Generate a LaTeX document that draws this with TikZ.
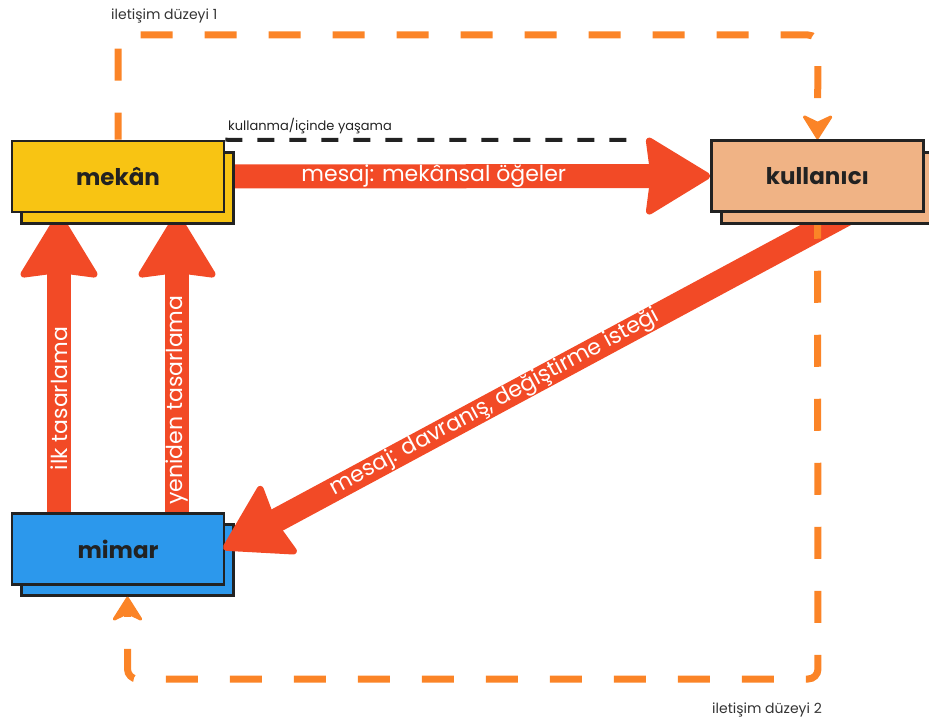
\documentclass[tikz,border=0pt]{standalone}
\usepackage{fontspec}
\setmainfont{Poppins}
\usetikzlibrary{arrows.meta}

\definecolor{msgred}{HTML}{F24A26}
\definecolor{lvlorange}{HTML}{FB8427}
\definecolor{spaceyellow}{HTML}{F8C413}
\definecolor{userpeach}{HTML}{F0B385}
\definecolor{archblue}{HTML}{2C98EC}
\definecolor{ink}{HTML}{222222}
\definecolor{caption}{HTML}{333333}

\pgfdeclarelayer{base}
\pgfdeclarelayer{flows}
\pgfdeclarelayer{levels}
\pgfsetlayers{base,flows,levels,main}

\tikzset{
  box/.style={draw=ink, line width=2.5pt, minimum width=212pt, minimum height=71pt,
              inner sep=0pt, font=\fontsize{23}{26}\selectfont\bfseries, text=ink},
  msg/.style={draw=msgred, line width=24pt,
              -{Stealth[length=68pt, width=82pt, inset=5pt, line width=7pt, round]}},
  msglabel/.style={text=white, font=\fontsize{22}{25}\selectfont, sloped, inner sep=0pt},
  level/.style={draw=lvlorange, line width=7pt, dash pattern=on 32pt off 32pt,
              rounded corners=10pt,
              -{Stealth[length=27pt, width=34pt, inset=8pt, line width=3pt, round]}},
  usage/.style={draw=ink, line width=4pt, dash pattern=on 17pt off 15pt},
  levellabel/.style={text=caption, font=\fontsize{14}{17}\selectfont, inner sep=0pt},
}

\begin{document}
\begin{tikzpicture}[x=1pt, y=-1pt]
\useasboundingbox (0,0) rectangle (929,722);

% architect: stacked boxes at the bottom left
\begin{pgfonlayer}{base}
  \node[box, fill=archblue] (mimarb) at (127.5,560) {};
  \node[box, fill=archblue] (mimar) at (118,549) {mimar};
\end{pgfonlayer}

% space and user: stacked boxes along the top
\node[box, fill=spaceyellow] (mekanb) at (127.5,188) {};
\node[box, fill=spaceyellow] (mekan) at (118,176.5) {mekân};
\node[box, fill=userpeach] (kullanicib) at (827.5,188) {};
\node[box, fill=userpeach] (kullanici) at (817.5,176) {kullanıcı};

\coordinate (usageend) at (628,140);

% message flows
\begin{pgfonlayer}{flows}
  \draw[msg] (mekan.east) -- (kullanici.west)
    node[msglabel, pos=0.43] {mesaj: mekânsal öğeler};
  \draw[msg] ([xshift=-59pt]mimar.north) -- ([xshift=-59pt]mekan.south)
    node[msglabel, pos=0.38] {ilk tasarlama};
  \draw[msg] ([xshift=59pt]mimar.north) -- ([xshift=59pt]mekan.south)
    node[msglabel, pos=0.375] {yeniden tasarlama};
  \draw[msg] ([xshift=31pt]kullanici.south) -- ([xshift=-2pt]mimar.east)
    node[msglabel, pos=0.565] {mesaj: davranış, değiştirme isteği};
\end{pgfonlayer}

% communication levels and usage
\begin{pgfonlayer}{levels}
  \draw[level, dash phase=5pt] (mekan.north) -- (118,35) -- (818,35) -- (kullanici.north);
  \draw[level, dash phase=6pt] (kullanici.south) -- (818,679) -- (127.5,679) -- (mimarb.south);
  \draw[usage] (mekan.north east) -- (usageend);
\end{pgfonlayer}

\node[anchor=base west, text=ink, font=\fontsize{13}{15}\selectfont, inner sep=0pt]
  (usage) at (228,131) {kullanma/içinde yaşama};
\node[levellabel, anchor=base west] (level1) at (111,20) {iletişim düzeyi 1};
\node[levellabel, anchor=base east] (level2) at (822,713) {iletişim düzeyi 2};

\end{tikzpicture}
\end{document}
